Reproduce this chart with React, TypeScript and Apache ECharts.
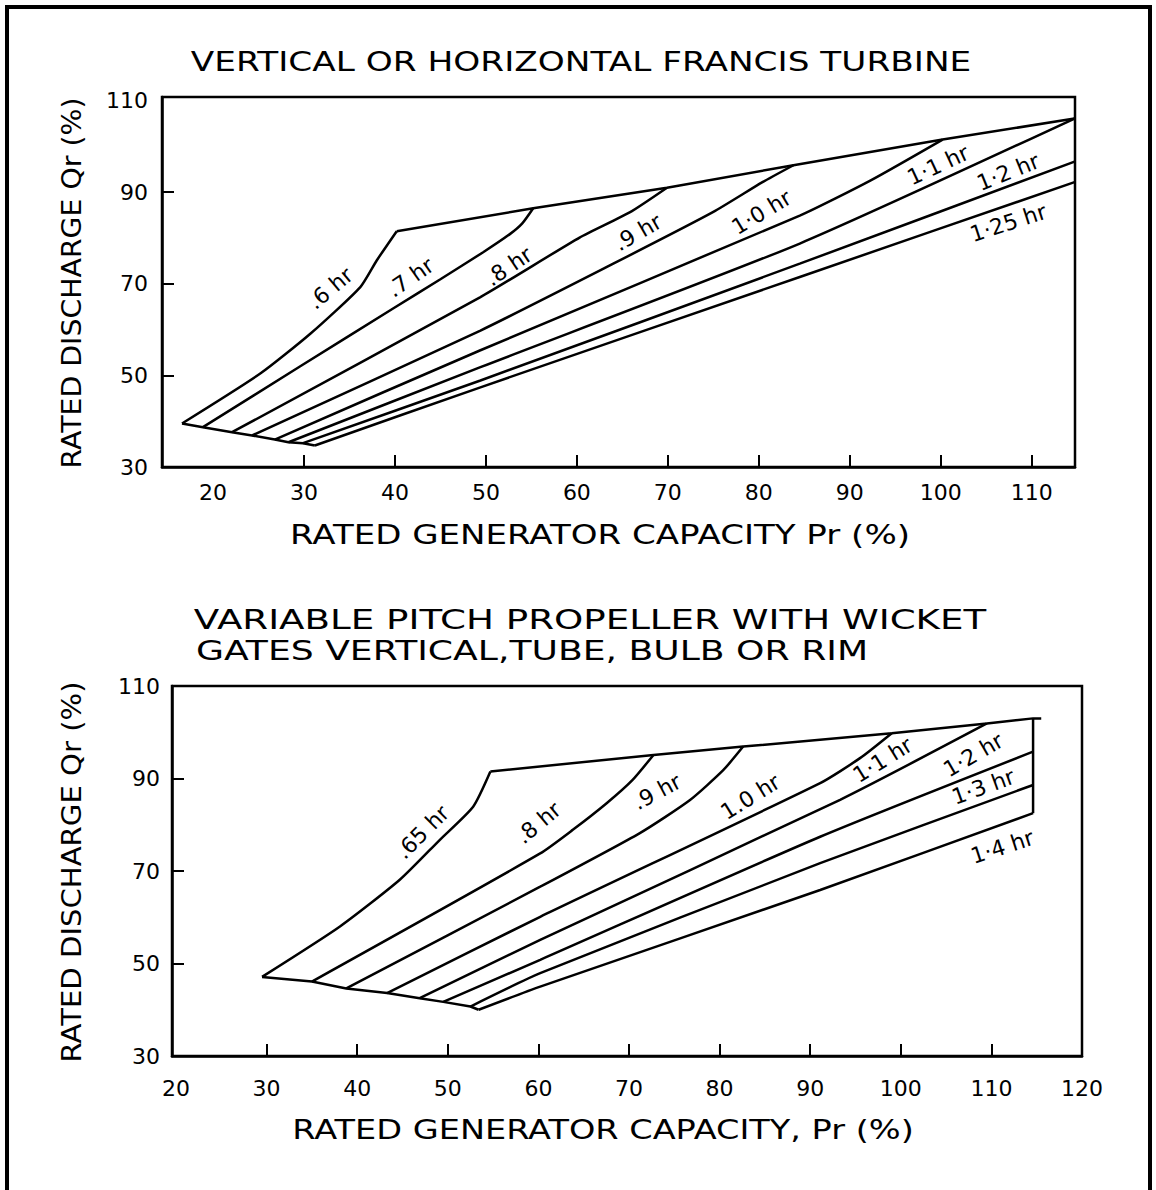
import React, { useEffect, useRef } from "react";
import * as echarts from "echarts";

const FONT = '"DejaVu Sans", "Liberation Sans", sans-serif';
const INK = "#000";

// ---------- Top panel: vertical or horizontal Francis turbine ----------
const francisNames = [".6 hr", ".7 hr", ".8 hr", ".9 hr", "1·0 hr", "1·1 hr", "1·2 hr", "1·25 hr"];
const francis06 = [[16.6, 39.5], [25.2, 50.4], [30.7, 59.1], [36.2, 69.3], [38.0, 75.1], [40.2, 81.5]];
const francis07 = [[18.9, 38.7], [29.6, 52.0], [39.8, 64.6], [45.0, 71.0], [49.7, 76.9], [52.6, 80.8], [54.0, 83.2], [55.2, 86.5]];
const francis08 = [[22.1, 37.6], [49.4, 67.1], [60.3, 80.1], [65.8, 85.6], [69.9, 91.0]];
const francis09 = [[24.3, 36.9], [49.4, 59.8], [64.0, 74.4], [75.0, 85.7], [80.4, 92.2], [83.8, 95.9]];
const francis10 = [[26.8, 36.0], [49.4, 55.5], [84.5, 84.9], [92.3, 92.6], [100.2, 101.5]];
const francis11 = [[28.3, 35.4], [49.4, 51.8], [84.5, 78.8], [114.7, 106.1]];
const francis12 = [[29.9, 35.2], [49.4, 48.9], [84.5, 74.4], [114.7, 96.7]];
const francis125 = [[31.2, 34.7], [49.4, 47.4], [84.5, 71.5], [114.7, 92.2]];
const francisCurves = [francis06, francis07, francis08, francis09, francis10, francis11, francis12, francis125];
const francisLabelAt = [[32.9, 69.0], [41.7, 71.4], [52.5, 73.8], [66.7, 81.2], [80.3, 85.6], [99.7, 95.9], [107.4, 94.4], [107.4, 83.3]];
const francisLabelAngle = [40, 35, 34, 30, 31, 25, 22, 18];

// ---------- Bottom panel: variable pitch propeller with wicket gates ----------
const propNames = [".65 hr", ".8 hr", ".9 hr", "1.0 hr", "1·1 hr", "1·2 hr", "1·3 hr", "1·4 hr"];
const prop065 = [[29.5, 47.1], [38.1, 58.0], [44.7, 68.1], [49.1, 76.7], [52.8, 83.9], [54.7, 91.5]];
const prop08 = [[35.0, 46.1], [60.2, 73.8], [63.8, 78.9], [67.5, 84.6], [70.4, 89.7], [72.7, 95.1]];
const prop09 = [[38.8, 44.6], [60.2, 66.6], [71.2, 78.2], [76.7, 85.3], [80.4, 91.8], [82.6, 96.9]];
const prop10 = [[43.3, 43.6], [60.2, 60.1], [91.1, 89.0], [95.5, 94.4], [99.0, 99.8]];
const prop11 = [[46.9, 42.5], [60.2, 55.1], [93.3, 85.4], [109.5, 101.9]];
const prop12 = [[49.5, 41.7], [60.2, 50.8], [91.1, 77.4], [114.6, 95.8]];
const prop13 = [[52.5, 40.7], [60.2, 47.9], [91.1, 71.7], [114.6, 88.6]];
const prop14 = [[53.4, 40.0], [60.2, 45.0], [91.1, 65.9], [114.6, 82.5]];
const propCurves = [prop065, prop08, prop09, prop10, prop11, prop12, prop13, prop14];
const propCap = [[114.6, 103.0], [115.5, 103.0]];
const propLabelAt = [[47.2, 78.4], [60.0, 80.4], [73.1, 87.1], [83.4, 86.0], [98.0, 94.0], [108.0, 95.1], [109.1, 88.2], [111.2, 75.2]];
const propLabelAngle = [45, 40, 28, 32, 32, 30, 20, 18];

// ---------- Axis ticks / labels ----------
const topXLabels = [20, 30, 40, 50, 60, 70, 80, 90, 100, 110];
const topXTicks = [30, 40, 50, 60, 70, 80, 90, 100, 110];
const bottomXLabels = [20, 30, 40, 50, 60, 70, 80, 90, 100, 110, 120];
const bottomXTicks = [30, 40, 50, 60, 70, 80, 90, 100, 110];
const yLabels = [30, 50, 70, 90, 110];
const yTicks = [50, 70, 90];

const last = (c: number[][]) => c[c.length - 1];

function lineSeries(data: number[][], idx: number, name?: string, smooth = false) {
  return {
    type: "line",
    name,
    xAxisIndex: idx,
    yAxisIndex: idx,
    data,
    symbol: "none",
    silent: true,
    clip: false,
    smooth: smooth ? 0.2 : false,
    lineStyle: { color: INK, width: 2.5 },
  };
}

function labelSeries(names: string[], at: number[][], angles: number[], idx: number) {
  return {
    type: "scatter",
    xAxisIndex: idx,
    yAxisIndex: idx,
    symbolSize: 0,
    silent: true,
    itemStyle: { color: INK },
    label: {
      show: true,
      position: "inside",
      formatter: "{b}",
      fontSize: 22,
      fontFamily: FONT,
      color: INK,
      opacity: 1,
      align: "center",
      verticalAlign: "middle",
    },
    data: names.map((n, i) => ({ name: n, value: at[i], label: { rotate: angles[i] } })),
  };
}

function xAxis(idx: number, min: number, max: number, labels: number[], ticks: number[], margin: number) {
  return {
    type: "value",
    gridIndex: idx,
    min,
    max,
    axisLine: { show: true, onZero: false, lineStyle: { color: INK, width: 2.5 } },
    axisTick: { show: true, inside: true, length: 12, lineStyle: { color: INK, width: 2 }, customValues: ticks },
    axisLabel: { customValues: labels, margin, fontSize: 22, fontFamily: FONT, color: INK },
    splitLine: { show: false },
  };
}

function yAxis(idx: number, min: number, max: number, margin: number) {
  return {
    type: "value",
    gridIndex: idx,
    min,
    max,
    axisLine: { show: true, onZero: false, lineStyle: { color: INK, width: 2.5 } },
    axisTick: { show: true, inside: true, length: 12, lineStyle: { color: INK, width: 2 }, customValues: yTicks },
    axisLabel: { customValues: yLabels, margin, fontSize: 22, fontFamily: FONT, color: INK },
    splitLine: { show: false },
  };
}

function txt(text: string, x: number, y: number, scaleX: number, rotation = 0) {
  return {
    type: "text",
    x,
    y,
    scaleX,
    rotation,
    silent: true,
    style: {
      text,
      fontSize: 26,
      fontFamily: FONT,
      fill: INK,
      textAlign: "center",
      textVerticalAlign: "middle",
      align: "center",
      verticalAlign: "middle",
    },
  };
}

export default function App() {
  const ref = useRef<HTMLDivElement>(null);

  useEffect(() => {
    if (!ref.current) return;
    const chart = echarts.init(ref.current, undefined, { renderer: "svg" });

    const series: any[] = [];
    francisCurves.forEach((c, i) => series.push(lineSeries(c, 0, francisNames[i], true)));
    series.push(lineSeries(francisCurves.map((c) => c[0]), 0, "lower limit"));
    series.push(lineSeries(francisCurves.slice(0, 6).map(last), 0, "upper limit"));
    series.push(labelSeries(francisNames, francisLabelAt, francisLabelAngle, 0));

    propCurves.forEach((c, i) => series.push(lineSeries(c, 1, propNames[i], true)));
    series.push(lineSeries(propCurves.map((c) => c[0]), 1, "lower limit"));
    series.push(lineSeries([...propCurves.slice(0, 5).map(last), ...propCap], 1, "upper limit"));
    series.push(lineSeries([propCap[0], last(propCurves[7])], 1, "right limit"));
    series.push(labelSeries(propNames, propLabelAt, propLabelAngle, 1));

    const option: any = {
      animation: false,
      backgroundColor: "#ffffff",
      grid: [
        { left: 162, top: 97, width: 913, height: 370, show: true, borderColor: INK, borderWidth: 2.5, outerBoundsMode: "none", containLabel: false },
        { left: 172, top: 686, width: 910, height: 370, show: true, borderColor: INK, borderWidth: 2.5, outerBoundsMode: "none", containLabel: false },
      ],
      xAxis: [
        xAxis(0, 14.4, 114.75, topXLabels, topXTicks, 14),
        xAxis(1, 19.56, 120, bottomXLabels, bottomXTicks, 21),
      ],
      yAxis: [yAxis(0, 30, 110.8, 14), yAxis(1, 30, 110, 12)],
      series,
      graphic: [
        {
          type: "rect",
          silent: true,
          shape: { x: 7, y: 7, width: 1143, height: 1200 },
          style: { fill: "none", stroke: INK, lineWidth: 4 },
        },
        txt("VERTICAL OR HORIZONTAL FRANCIS TURBINE", 581, 62, 1.32),
        txt("RATED GENERATOR CAPACITY Pr (%)", 600, 535, 1.31),
        txt("RATED DISCHARGE Qr (%)", 72, 283, 1.09, Math.PI / 2),
        txt("VARIABLE PITCH PROPELLER WITH WICKET", 590, 620, 1.43),
        txt("GATES VERTICAL,TUBE, BULB OR RIM", 532, 651, 1.39),
        txt("RATED GENERATOR CAPACITY, Pr (%)", 603, 1130, 1.29),
        txt("RATED DISCHARGE Qr (%)", 72, 872, 1.12, Math.PI / 2),
      ],
    };

    chart.setOption(option);
    return () => chart.dispose();
  }, []);

  return (
    <div
      ref={ref}
      style={{ position: "fixed", left: 0, top: 0, width: 1156, height: 1190, background: "#fff" }}
    />
  );
}
